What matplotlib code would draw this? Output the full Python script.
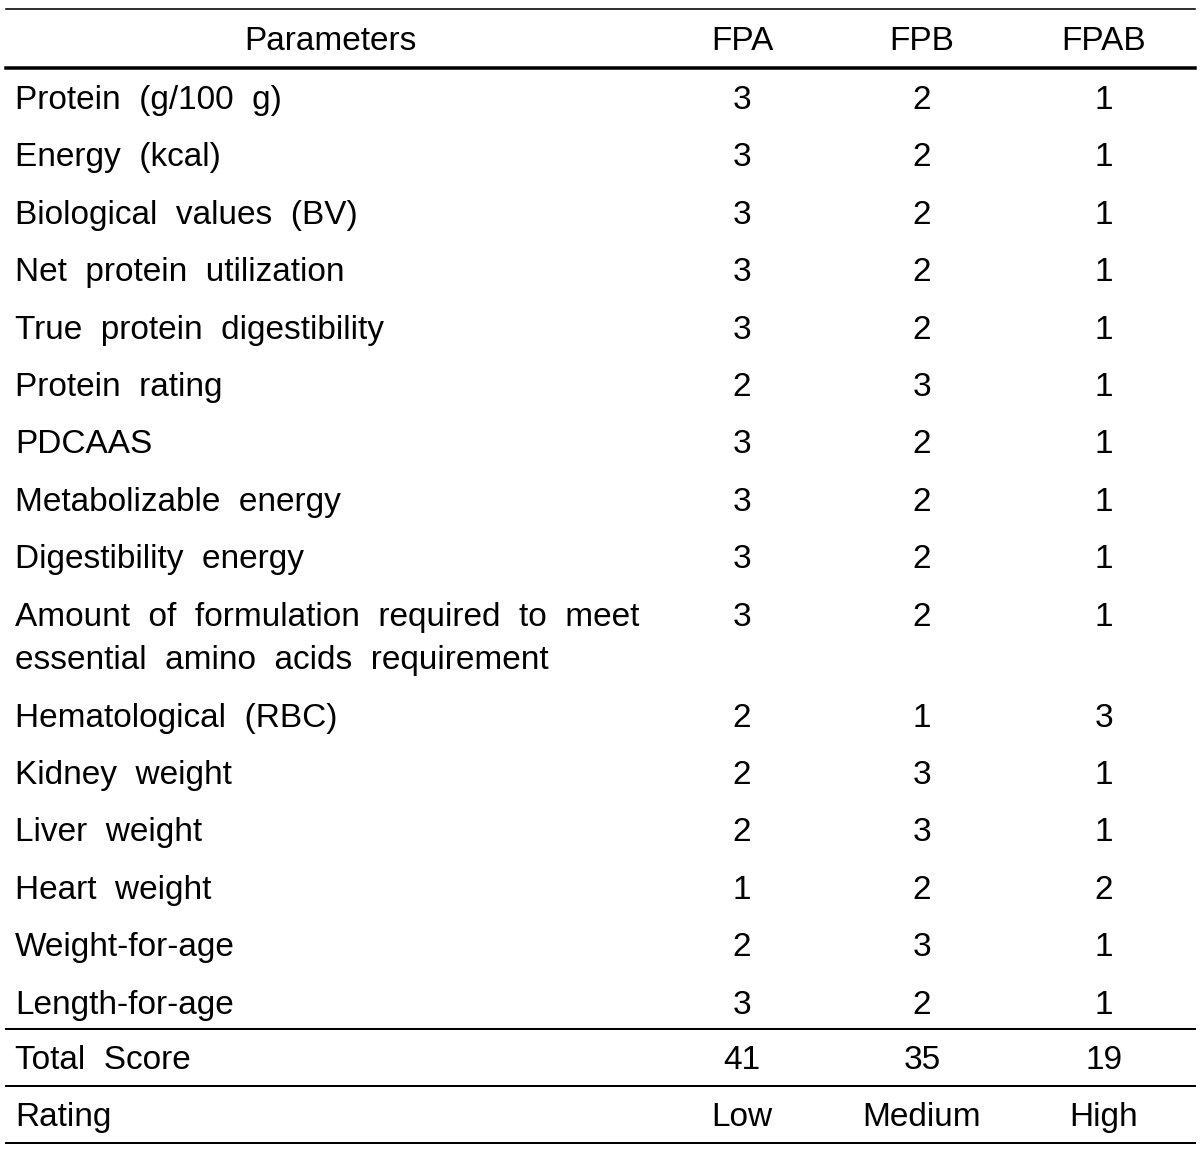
import matplotlib.pyplot as plt

headers = ["Parameters", "FPA", "FPB", "FPAB"]
parameters = [
    "Protein  (g/100  g)",
    "Energy  (kcal)",
    "Biological  values  (BV)",
    "Net  protein  utilization",
    "True  protein  digestibility",
    "Protein  rating",
    "PDCAAS",
    "Metabolizable  energy",
    "Digestibility  energy",
    "Amount  of  formulation  required  to  meet\nessential  amino  acids  requirement",
    "Hematological  (RBC)",
    "Kidney  weight",
    "Liver  weight",
    "Heart  weight",
    "Weight-for-age",
    "Length-for-age",
]
fpa = [3, 3, 3, 3, 3, 2, 3, 3, 3, 3, 2, 2, 2, 1, 2, 3]
fpb = [2, 2, 2, 2, 2, 3, 2, 2, 2, 2, 1, 3, 3, 2, 3, 2]
fpab = [1, 1, 1, 1, 1, 1, 1, 1, 1, 1, 3, 1, 1, 2, 1, 1]
total_score = [41, 35, 19]
rating = ["Low", "Medium", "High"]

plt.rcParams['font.family'] = ['Liberation Sans', 'DejaVu Sans']
fs = 24

fig = plt.figure(figsize=(12, 11.5), dpi=100)
ax = fig.add_axes([0, 0, 1, 1])
ax.set_xlim(0, 1200)
ax.set_ylim(1150, 0)
ax.axis('off')

col_x = [742, 922, 1104]
left_x = 15

# rules (widths in px -> pt)
px = 0.72
ax.plot([6, 1195], [9, 9], color='black', lw=1.6 * px)
ax.plot([6, 1195], [68, 68], color='black', lw=3.5 * px)
ax.plot([6, 1195], [1029, 1029], color='black', lw=2 * px)
ax.plot([6, 1195], [1086, 1086], color='black', lw=2 * px)
ax.plot([6, 1195], [1143, 1143], color='black', lw=2 * px)

# header
ax.text(330, 38, headers[0], fontsize=fs, ha='center', va='center_baseline')
for x, h in zip(col_x, headers[1:]):
    ax.text(x, 38, h, fontsize=fs, ha='center', va='center_baseline')

# body rows
y = 97
for i, p in enumerate(parameters):
    lines = p.split('\n')
    for k, line in enumerate(lines):
        ax.text(left_x, y + k * 43, line, fontsize=fs, ha='left', va='center_baseline')
    for x, v in zip(col_x, [fpa[i], fpb[i], fpab[i]]):
        ax.text(x, y, str(v), fontsize=fs, ha='center', va='center_baseline')
    y += 57.4 + (len(lines) - 1) * 43.6

ax.text(left_x, 1057, "Total  Score", fontsize=fs, ha='left', va='center_baseline')
for x, v in zip(col_x, total_score):
    ax.text(x, 1057, str(v), fontsize=fs, ha='center', va='center_baseline')
ax.text(left_x, 1114, "Rating", fontsize=fs, ha='left', va='center_baseline')
for x, v in zip(col_x, rating):
    ax.text(x, 1114, v, fontsize=fs, ha='center', va='center_baseline')

fig.savefig('out.png', dpi=100, facecolor='white')
